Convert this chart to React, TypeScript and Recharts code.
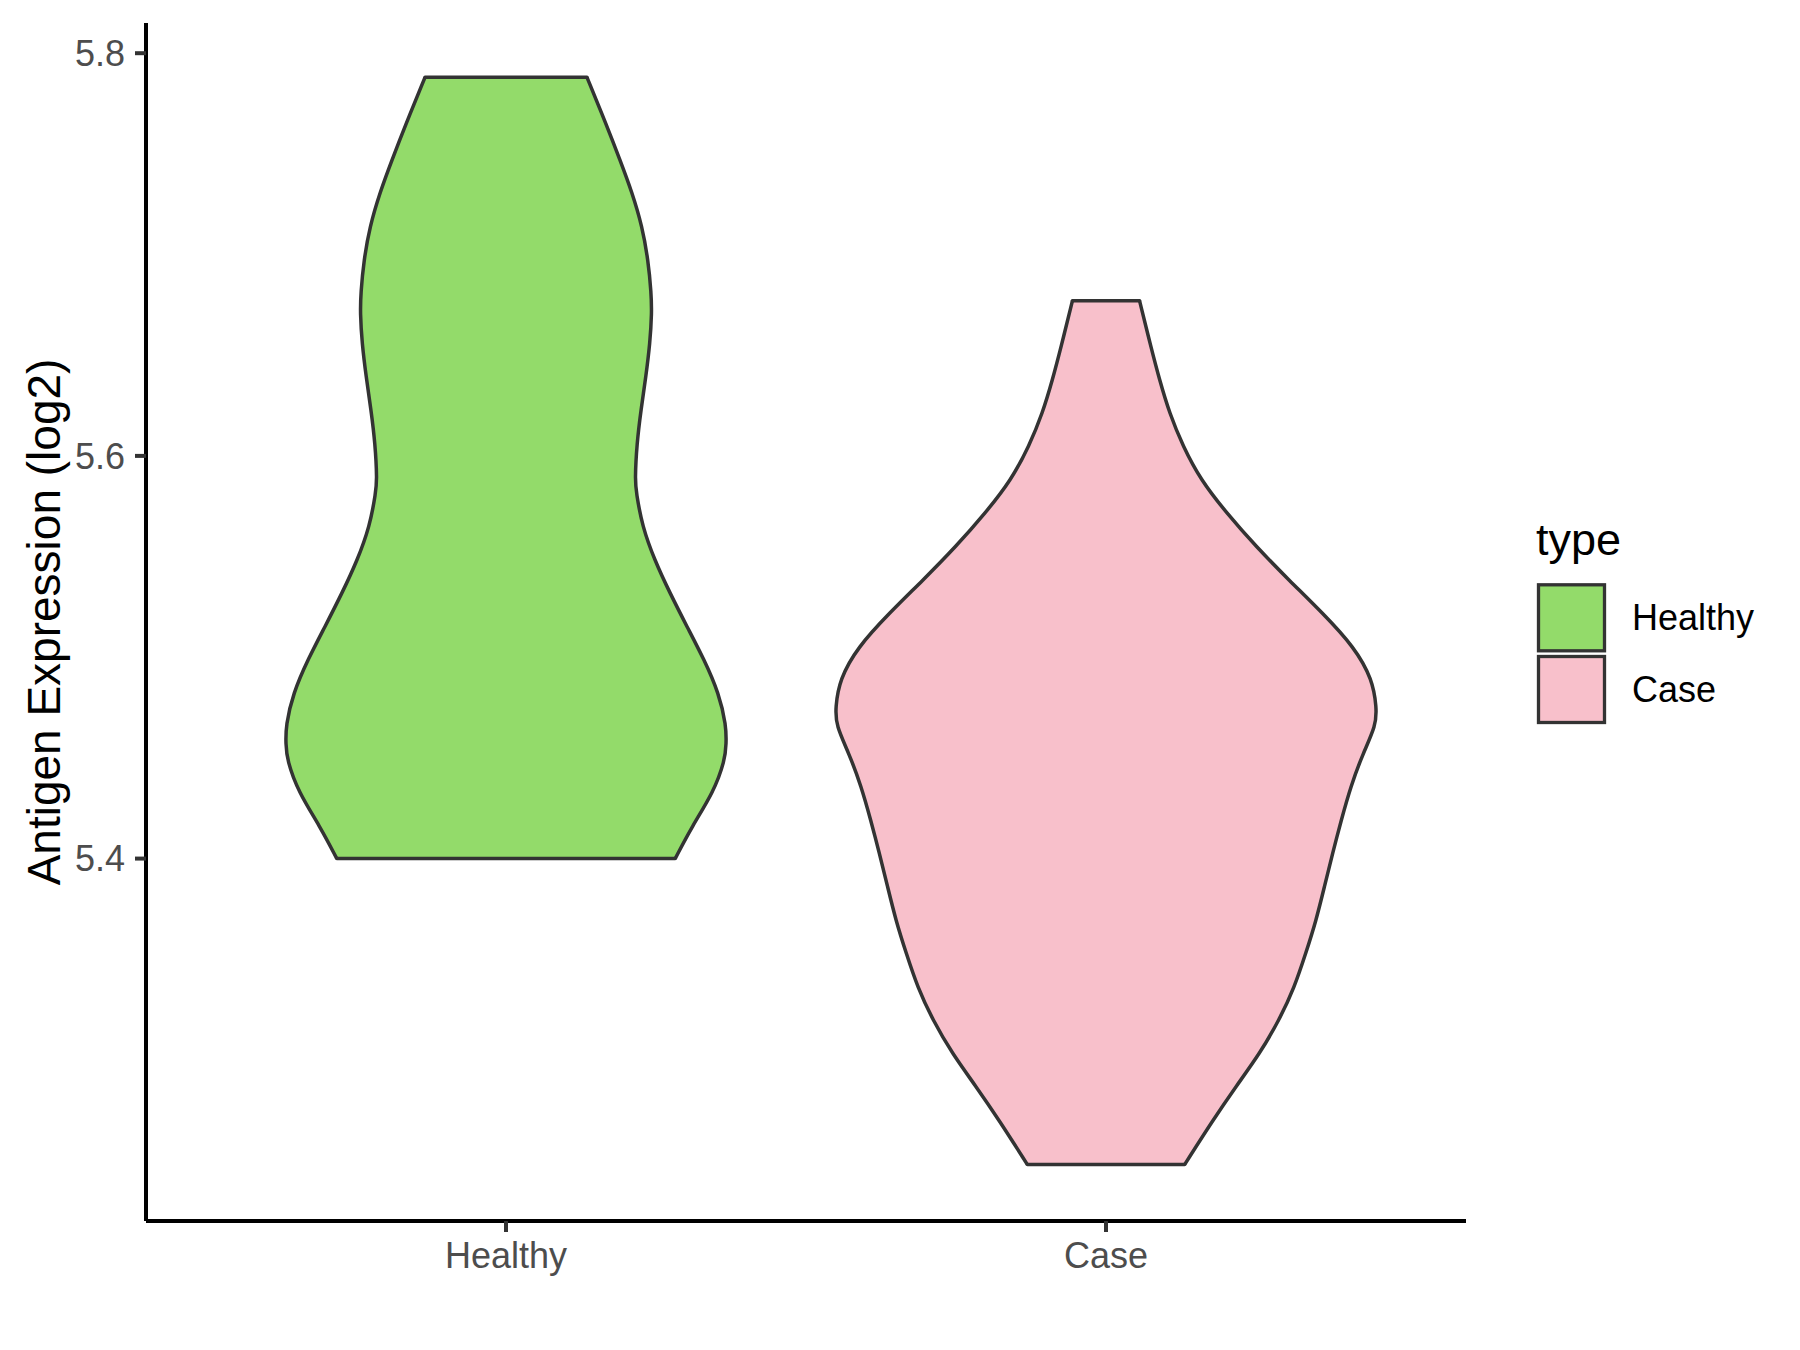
import { ComposedChart, Area, Line, XAxis, YAxis, Legend } from "recharts"

const categories = ["Healthy", "Case"]
const fills = ["#93DB6A", "#F8C0CB"]
const yTicks = [5.4, 5.6, 5.8]

// violin outlines, read bottom to top: expression level and half-width (in category units)
const healthyLevels = [
  5.4, 5.416, 5.433, 5.449, 5.457, 5.466, 5.482, 5.499, 5.515, 5.532, 5.548, 5.565, 5.582,
  5.588, 5.606, 5.623, 5.639, 5.656, 5.671, 5.681, 5.697, 5.714, 5.731, 5.747, 5.764, 5.788,
]
const healthyWidths = [
  0.282, 0.31, 0.346, 0.365, 0.367, 0.367, 0.355, 0.33, 0.302, 0.273, 0.248, 0.227, 0.217,
  0.215, 0.218, 0.225, 0.233, 0.24, 0.243, 0.242, 0.237, 0.227, 0.21, 0.19, 0.168, 0.135,
]
const caseLevels = [
  5.248, 5.27, 5.287, 5.303, 5.32, 5.336, 5.353, 5.369, 5.386, 5.403, 5.419, 5.436, 5.452,
  5.466, 5.475, 5.489, 5.505, 5.522, 5.538, 5.555, 5.572, 5.588, 5.605, 5.621, 5.638, 5.654, 5.677,
]
const caseWidths = [
  0.131, 0.178, 0.217, 0.256, 0.289, 0.314, 0.333, 0.35, 0.364, 0.378, 0.392, 0.408, 0.428,
  0.45, 0.451, 0.444, 0.414, 0.361, 0.306, 0.25, 0.2, 0.158, 0.128, 0.106, 0.089, 0.075, 0.056,
]

const buildViolin = (levels: number[], widths: number[], center: number) =>
  levels.map((y, i) => ({ y, range: [center - widths[i], center + widths[i]] }))

const buildCaps = (levels: number[], widths: number[], center: number) =>
  [0, levels.length - 1].map((i) => [
    { y: levels[i], x: center - widths[i] },
    { y: levels[i], x: center + widths[i] },
  ])

const violins = [
  { name: categories[0], fill: fills[0], data: buildViolin(healthyLevels, healthyWidths, 1), caps: buildCaps(healthyLevels, healthyWidths, 1) },
  { name: categories[1], fill: fills[1], data: buildViolin(caseLevels, caseWidths, 2), caps: buildCaps(caseLevels, caseWidths, 2) },
]

const outline = "#333333"

function TypeLegend() {
  return (
    <svg width={280} height={240}>
      <text x={6} y={55} fontSize={45} fill="#000">type</text>
      {categories.map((c, i) => (
        <g key={c}>
          <rect x={8.5} y={84.8 + i * 71.7} width={66} height={66} fill={fills[i]} stroke={outline} strokeWidth={3.3} />
          <text x={102} y={130 + i * 71.7} fontSize={36} fill="#000">{c}</text>
        </g>
      ))}
    </svg>
  )
}

export default function App() {
  return (
    <div style={{ position: "absolute", left: 0, top: 0, fontFamily: "'Liberation Sans', Arial, sans-serif", background: "#fff" }}>
      <ComposedChart width={1800} height={1350} layout="vertical" margin={{ top: 23, right: 334, bottom: 0, left: 0 }}>
        <XAxis
          type="number"
          domain={[0.4, 2.6]}
          ticks={[1, 2]}
          allowDataOverflow
          tickFormatter={(v: number) => categories[v - 1]}
          height={129}
          tickSize={11}
          tickMargin={10}
          tick={{ fontSize: 36, fill: "#4D4D4D" }}
          axisLine={{ stroke: "#000", strokeWidth: 4 }}
          tickLine={{ stroke: outline, strokeWidth: 4 }}
        />
        <YAxis
          type="number"
          dataKey="y"
          domain={[5.22, 5.815]}
          ticks={yTicks}
          reversed
          allowDataOverflow
          tickFormatter={(v: number) => v.toFixed(1)}
          width={146}
          tickSize={11}
          tickMargin={10}
          tick={{ fontSize: 36, fill: "#4D4D4D" }}
          axisLine={{ stroke: "#000", strokeWidth: 4 }}
          tickLine={{ stroke: outline, strokeWidth: 4 }}
          label={{
            value: "Antigen Expression (log2)",
            angle: -90,
            position: "insideLeft",
            offset: 44,
            style: { textAnchor: "middle", fontSize: 46, fill: "#000" },
          }}
        />
        {violins.map((v) => (
          <Area
            key={v.name}
            name={v.name}
            data={v.data}
            dataKey="range"
            type="basis"
            fill={v.fill}
            fillOpacity={1}
            stroke={outline}
            strokeWidth={3.5}
            isAnimationActive={false}
          />
        ))}
        {violins.flatMap((v) =>
          v.caps.map((cap, j) => (
            <Line
              key={`${v.name}-cap-${j}`}
              data={cap}
              dataKey="x"
              type="linear"
              stroke={outline}
              strokeWidth={3.5}
              strokeLinecap="round"
              dot={false}
              activeDot={false}
              legendType="none"
              isAnimationActive={false}
            />
          ))
        )}
        <Legend
          layout="vertical"
          align="center"
          verticalAlign="middle"
          wrapperStyle={{ position: "absolute", left: 1530, top: 500, width: 280, height: 240 }}
          content={() => <TypeLegend />}
        />
      </ComposedChart>
    </div>
  )
}
